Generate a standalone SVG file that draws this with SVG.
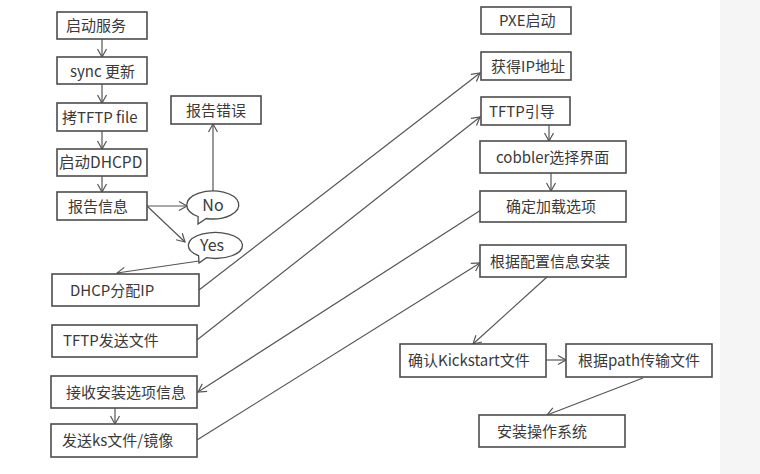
<svg xmlns="http://www.w3.org/2000/svg" width="760" height="474" viewBox="0 0 760 474">
<style>
.box{fill:#ffffff;stroke:#4d4d4d;stroke-width:1.6}
.bub{fill:#ffffff;stroke:#4d4d4d;stroke-width:1.3}
.t{font-family:"Noto Sans CJK SC","Microsoft YaHei","Noto Sans",sans-serif;font-size:15px;fill:#3a3a3a}
.c{text-anchor:middle}
.ln{fill:none;stroke:#555555;stroke-width:1.2;marker-end:url(#ah)}
</style>
<defs>
<marker id="ah" markerUnits="userSpaceOnUse" markerWidth="12" markerHeight="12" viewBox="-1 -6 11 12" refX="9" refY="0" orient="auto">
<path d="M1,-4.5 L9,0 L1,4.5" fill="none" stroke="#555555" stroke-width="1.2"/>
</marker>
</defs>
<rect x="720" y="0" width="40" height="474" fill="#f5f5f5"/>
<g id="connectors">
<line class="ln" x1="102" y1="39" x2="102" y2="57"/>
<line class="ln" x1="102" y1="84" x2="102" y2="103"/>
<line class="ln" x1="102" y1="131" x2="102" y2="149"/>
<line class="ln" x1="102" y1="176" x2="102" y2="192"/>
<line class="ln" x1="147" y1="206" x2="187" y2="206"/>
<line class="ln" x1="147" y1="206" x2="185" y2="242"/>
<line class="ln" x1="213" y1="191" x2="213" y2="124"/>
<line class="ln" x1="199" y1="261" x2="117" y2="273"/>
<line class="ln" x1="199" y1="290" x2="480" y2="73"/>
<line class="ln" x1="197" y1="340" x2="480" y2="117"/>
<line class="ln" x1="481" y1="210" x2="198" y2="392"/>
<line class="ln" x1="197" y1="440" x2="480" y2="263"/>
<line class="ln" x1="115" y1="408" x2="115" y2="424"/>
<line class="ln" x1="549" y1="125" x2="549" y2="141"/>
<line class="ln" x1="551" y1="173" x2="551" y2="191"/>
<line class="ln" x1="547" y1="277" x2="473" y2="344"/>
<line class="ln" x1="546" y1="360" x2="566" y2="360"/>
<line class="ln" x1="643" y1="378" x2="547" y2="415"/>
</g>
<g id="n1"><rect class="box" x="57" y="12" width="90" height="27"/><text class="t" x="66" y="31">启动服务</text></g>
<g id="n2"><rect class="box" x="57" y="57" width="90" height="27"/><text class="t" x="70" y="77">sync 更新</text></g>
<g id="n3"><rect class="box" x="57" y="103" width="90" height="28"/><text class="t" x="62" y="123">拷TFTP file</text></g>
<g id="n4"><rect class="box" x="57" y="149" width="90" height="27"/><text class="t" x="59" y="168" style="font-size:15.5px">启动DHCPD</text></g>
<g id="n5"><rect class="box" x="57" y="192" width="90" height="28"/><text class="t" x="68" y="212">报告信息</text></g>
<g id="n6"><rect class="box" x="171" y="96" width="90" height="28"/><text class="t" x="186" y="116">报告错误</text></g>
<g id="no"><path class="bub" d="M198.1,216.5 A26,14 0 1,1 206.3,218.5 L198,224 Z"/><text class="t c" x="213" y="211" style="font-size:16px">No</text></g>
<g id="yes"><path class="bub" d="M198.6,255.6 A27,13 0 1,1 206.5,257.7 L199,263 Z"/><text class="t c" x="212" y="251" style="font-size:16px">Yes</text></g>
<g id="n7"><rect class="box" x="52" y="274" width="147" height="32"/><text class="t" x="70" y="296">DHCP分配IP</text></g>
<g id="n8"><rect class="box" x="52" y="325" width="145" height="32"/><text class="t" x="63" y="346">TFTP发送文件</text></g>
<g id="n9"><rect class="box" x="51" y="376" width="146" height="32"/><text class="t" x="66" y="398">接收安装选项信息</text></g>
<g id="n10"><rect class="box" x="51" y="424" width="146" height="33"/><text class="t" x="62" y="446">发送ks文件/镜像</text></g>
<g id="r1"><rect class="box" x="481" y="7" width="90" height="27"/><text class="t" x="499" y="26">PXE启动</text></g>
<g id="r2"><rect class="box" x="481" y="52" width="90" height="28"/><text class="t" x="491" y="72">获得IP地址</text></g>
<g id="r3"><rect class="box" x="481" y="97" width="89" height="28"/><text class="t" x="489" y="117">TFTP引导</text></g>
<g id="r4"><rect class="box" x="480" y="141" width="146" height="32"/><text class="t" x="496" y="163">cobbler选择界面</text></g>
<g id="r5"><rect class="box" x="480" y="191" width="146" height="31"/><text class="t" x="506" y="212">确定加载选项</text></g>
<g id="r6"><rect class="box" x="480" y="245" width="146" height="32"/><text class="t" x="490" y="267">根据配置信息安装</text></g>
<g id="r7"><rect class="box" x="400" y="344" width="146" height="33"/><text class="t" x="408" y="366">确认Kickstart文件</text></g>
<g id="r8"><rect class="box" x="566" y="344" width="146" height="33"/><text class="t" x="578" y="366">根据path传输文件</text></g>
<g id="r9"><rect class="box" x="479" y="415" width="146" height="32"/><text class="t" x="497" y="437">安装操作系统</text></g>
</svg>
